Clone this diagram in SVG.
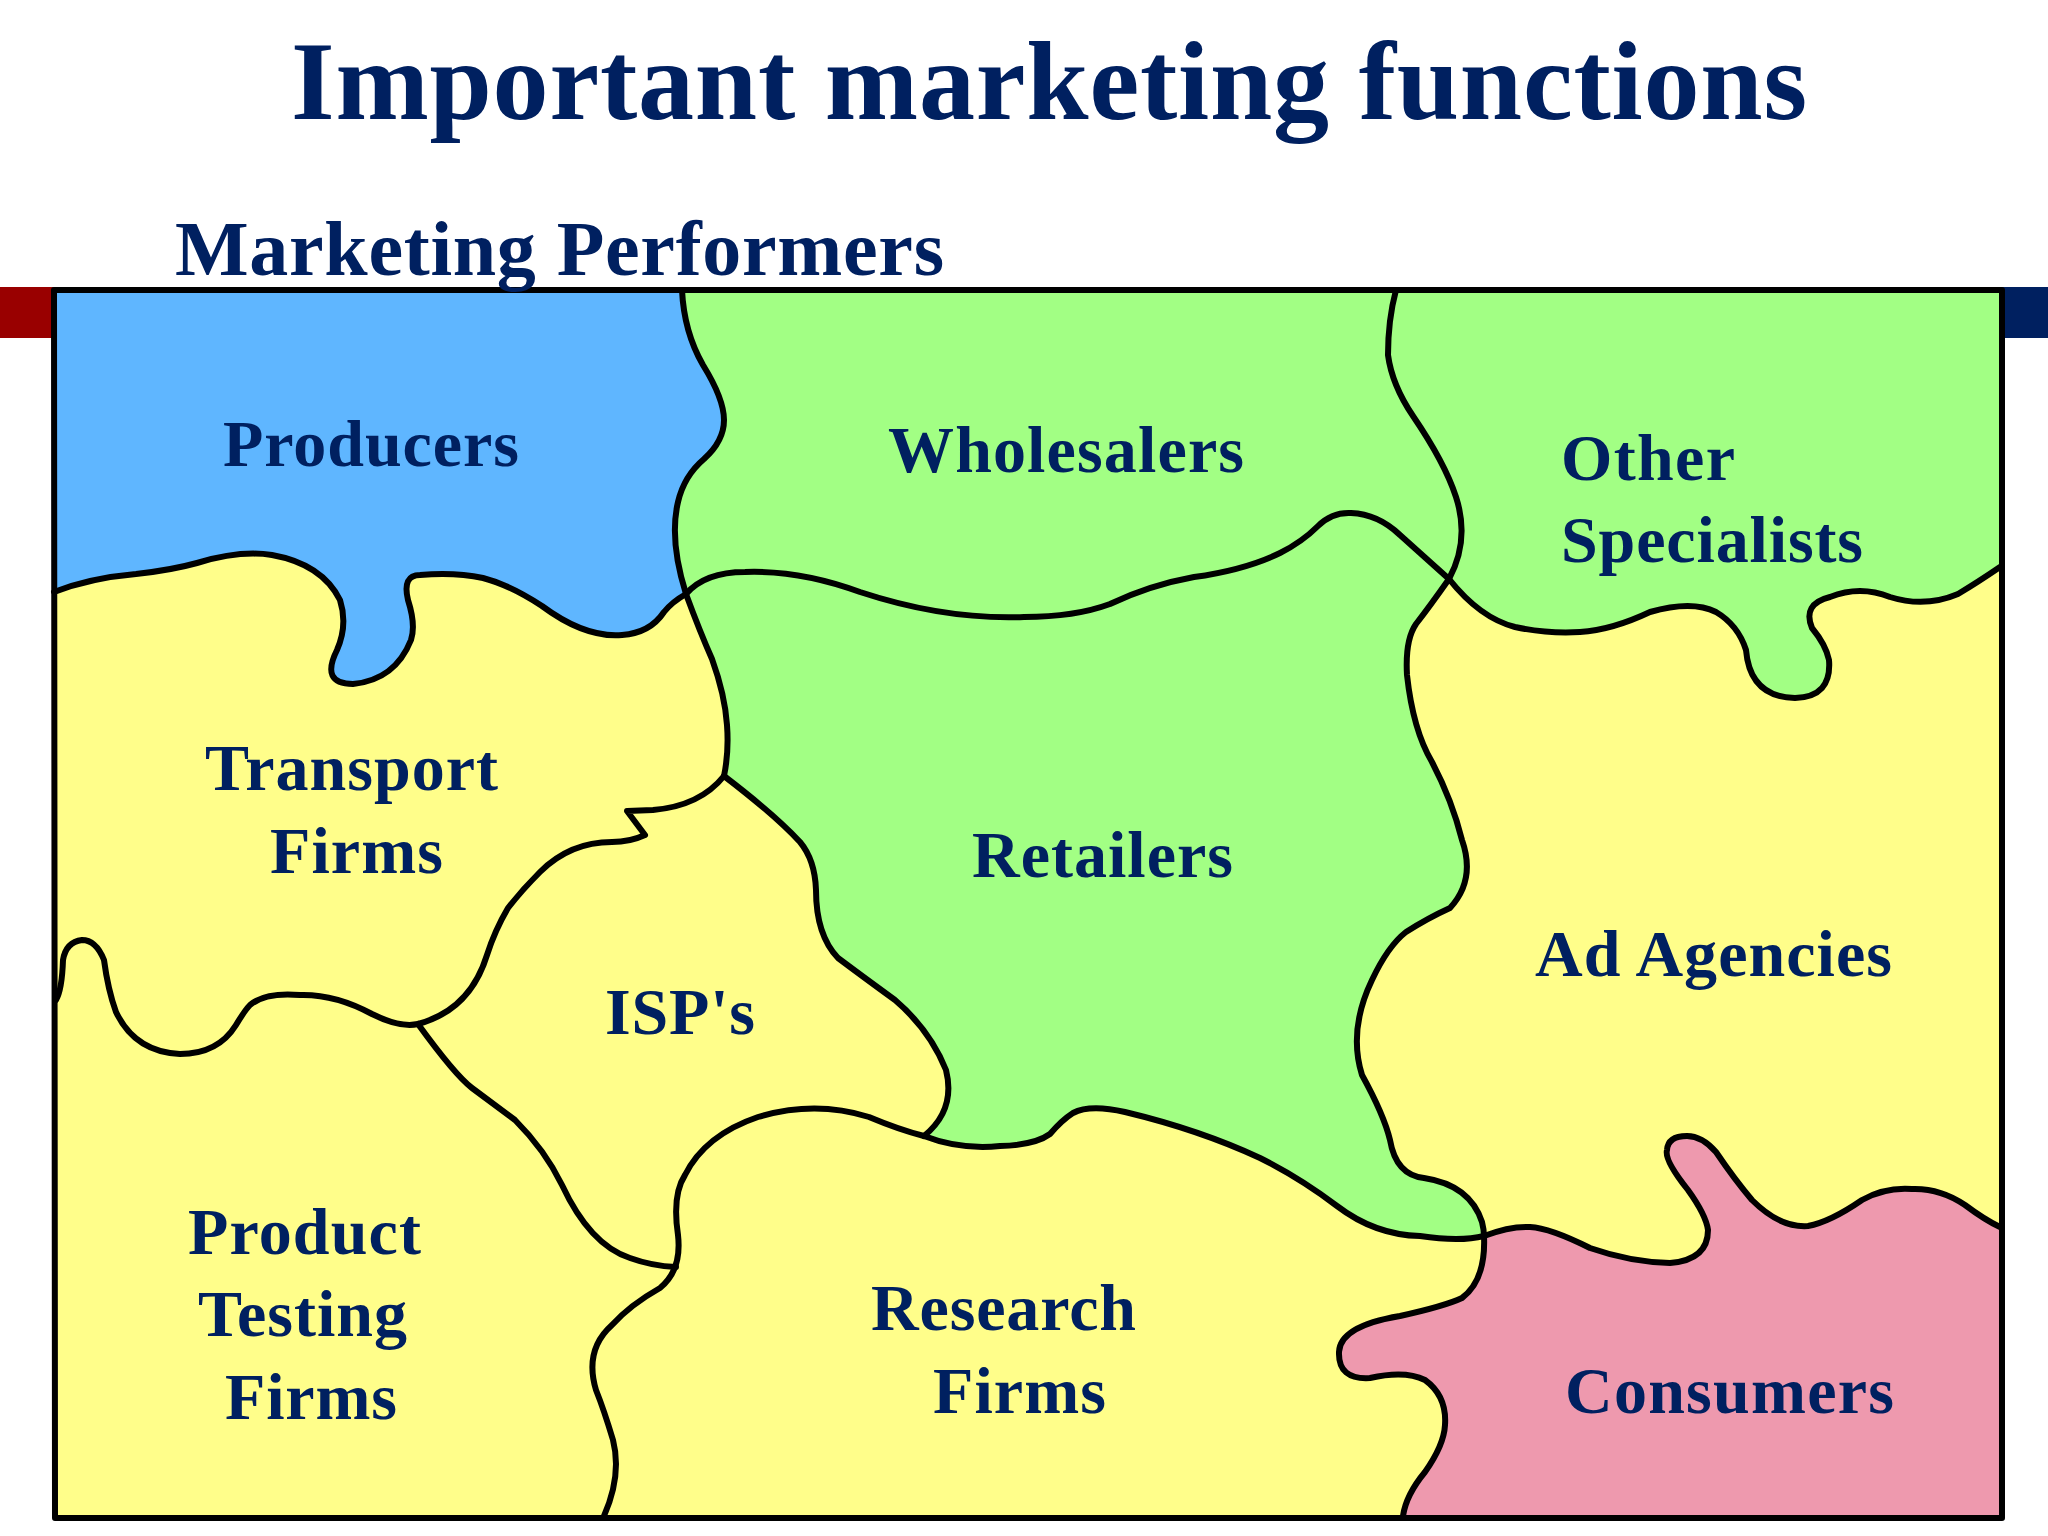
<svg xmlns="http://www.w3.org/2000/svg" width="2048" height="1536" viewBox="0 0 2048 1536">
<style>
.t{font-family:"Liberation Serif","Times New Roman",serif;font-weight:700;fill:#002060}
.l{font-size:66px}
.b{fill:none;stroke:#000;stroke-width:6;stroke-linejoin:round;stroke-linecap:round}
.y{fill:#FFFE8A}.g{fill:#A2FF84}
</style>
<rect width="2048" height="1536" fill="#fff"/>
<g id="banner">
<rect x="0" y="287" width="120" height="51" fill="#990000"/>
<rect x="132" y="287" width="1916" height="51" fill="#002060"/>
</g>
<g id="regions">
<rect class="y" x="54" y="290" width="1948" height="1228"/>
<path fill="#5FB6FF" d="M54 592 Q90 578 136 574 Q172 570 197 563 Q240 550 272 555 Q322 564 340 600 Q348 625 337 650 Q320 684 353 684 Q395 680 411 640 Q416 625 408 600 Q402 575 420 575 Q455 572 483 578 Q510 585 542 606 Q585 638 622 635 Q650 633 664 612 Q672 602 686 594 L760 594 L760 290 L54 290Z"/>
<path class="g" d="M682 290 Q684 332 703 365 Q724 399 724 420 Q724 441 704 459 Q684 476 678 502 Q669 540 686 594 Q700 632 712 659 Q725 695 727 725 Q729 752 724 776 Q775 815 800 842 Q815 860 816 890 Q816 935 838 958 Q862 976 895 1000 Q930 1030 946 1070 Q956 1110 924 1136 Q960 1150 1000 1146 Q1035 1145 1050 1134 Q1062 1120 1073 1113 Q1090 1104 1125 1112 Q1200 1130 1260 1158 Q1300 1178 1337 1206 Q1375 1235 1420 1236 Q1460 1242 1484 1236 L2000 1236 L2000 290Z"/>
<path class="y" d="M1449 579 Q1430 606 1416 624 Q1405 640 1407 675 Q1413 730 1432 762 Q1452 800 1462 840 Q1476 880 1450 908 Q1428 918 1406 932 Q1388 946 1372 980 Q1348 1030 1362 1075 Q1384 1115 1390 1140 Q1396 1175 1424 1178 Q1470 1185 1482 1222 Q1484 1230 1484 1236 Q1510 1226 1530 1227 Q1550 1228 1590 1248 Q1630 1262 1670 1263 Q1708 1260 1708 1230 Q1706 1215 1688 1190 Q1664 1160 1667 1150 Q1668 1136 1687 1136 Q1702 1136 1716 1152 Q1735 1180 1752 1200 Q1780 1228 1808 1226 Q1830 1222 1862 1200 Q1885 1187 1912 1189 Q1940 1188 1965 1205 Q1985 1220 2000 1227 L2000 520 L1480 520Z"/>
<path class="g" d="M1396 290 Q1388 320 1388 355 Q1392 385 1413 416 Q1445 463 1456 497 Q1470 540 1449 579 Q1480 618 1515 627 Q1548 634 1580 632 Q1612 630 1650 612 Q1692 600 1716 612 Q1738 625 1746 650 Q1750 697 1795 698 Q1832 697 1829 660 Q1826 645 1812 628 Q1802 604 1830 597 Q1860 585 1890 597 Q1925 608 1958 594 Q1978 582 2000 567 L2000 290Z"/>
<path fill="#EE99AE" d="M1484 1236 Q1510 1226 1530 1227 Q1550 1228 1590 1248 Q1630 1262 1670 1263 Q1708 1260 1708 1230 Q1706 1215 1688 1190 Q1664 1160 1667 1150 Q1668 1136 1687 1136 Q1702 1136 1716 1152 Q1735 1180 1752 1200 Q1780 1228 1808 1226 Q1830 1222 1862 1200 Q1885 1187 1912 1189 Q1940 1188 1965 1205 Q1985 1220 2000 1227 L2000 1516 L1300 1516 L1300 1260Z"/>
<path class="y" d="M604 1516 Q622 1475 613 1440 Q604 1410 596 1390 Q584 1350 612 1325 Q630 1305 660 1288 Q682 1270 678 1235 Q672 1195 685 1175 Q705 1135 758 1117 Q815 1100 869 1117 Q900 1130 924 1136 Q960 1150 1000 1146 Q1035 1145 1050 1134 Q1062 1120 1073 1113 Q1090 1104 1125 1112 Q1200 1130 1260 1158 Q1300 1178 1337 1206 Q1375 1235 1420 1236 Q1460 1242 1484 1236 Q1486 1280 1462 1298 Q1445 1306 1400 1316 Q1340 1326 1339 1352 Q1338 1380 1370 1378 Q1405 1370 1425 1380 Q1447 1396 1445 1425 Q1444 1445 1425 1472 Q1406 1495 1403 1516Z"/>
</g>
<g id="connectors">
<path class="b" d="M54 290 H2002 V1518 H55Z"/>
<path class="b" d="M682 290 Q684 332 703 365 Q724 399 724 420 Q724 441 704 459 Q684 476 678 502 Q669 540 686 594 Q700 632 712 659 Q725 695 727 725 Q729 752 724 776"/>
<path class="b" d="M54 592 Q90 578 136 574 Q172 570 197 563 Q240 550 272 555 Q322 564 340 600 Q348 625 337 650 Q320 684 353 684 Q395 680 411 640 Q416 625 408 600 Q402 575 420 575 Q455 572 483 578 Q510 585 542 606 Q585 638 622 635 Q650 633 664 612 Q672 602 686 594 Q705 572 745 572 Q800 570 860 592 Q945 620 1024 617 Q1075 617 1110 604 Q1150 585 1194 577 Q1245 570 1280 553 Q1302 542 1318 526 Q1332 512 1351 513 Q1378 514 1400 535 Q1428 560 1449 579 Q1480 618 1515 627 Q1548 634 1580 632 Q1612 630 1650 612 Q1692 600 1716 612 Q1738 625 1746 650 Q1750 697 1795 698 Q1832 697 1829 660 Q1826 645 1812 628 Q1802 604 1830 597 Q1860 585 1890 597 Q1925 608 1958 594 Q1978 582 2000 567"/>
<path class="b" d="M1396 290 Q1388 320 1388 355 Q1392 385 1413 416 Q1445 463 1456 497 Q1470 540 1449 579 Q1430 606 1416 624 Q1405 640 1407 675 Q1413 730 1432 762 Q1452 800 1462 840 Q1476 880 1450 908 Q1428 918 1406 932 Q1388 946 1372 980 Q1348 1030 1362 1075 Q1384 1115 1390 1140 Q1396 1175 1424 1178 Q1470 1185 1482 1222 Q1484 1230 1484 1236 Q1486 1280 1462 1298 Q1445 1306 1400 1316 Q1340 1326 1339 1352 Q1338 1380 1370 1378 Q1405 1370 1425 1380 Q1447 1396 1445 1425 Q1444 1445 1425 1472 Q1406 1495 1403 1516"/>
<path class="b" d="M724 776 Q700 806 653 810 L627 811 L645 835 Q630 842 612 842 Q570 842 540 872 Q522 890 508 908 Q495 930 487 955 Q470 1010 418 1024 Q400 1028 372 1014 Q335 994 300 995 Q265 992 250 1005 Q245 1010 236 1025 Q218 1054 180 1054 Q135 1052 116 1012 Q108 990 104 960 Q96 940 82 940 Q66 942 63 960 Q62 990 56 1000"/>
<path class="b" d="M724 776 Q775 815 800 842 Q815 860 816 890 Q816 935 838 958 Q862 976 895 1000 Q930 1030 946 1070 Q956 1110 924 1136"/>
<path class="b" d="M418 1024 Q455 1075 472 1088 Q495 1105 515 1120 Q545 1150 562 1185 Q590 1245 630 1258 Q652 1266 676 1267"/>
<path class="b" d="M604 1516 Q622 1475 613 1440 Q604 1410 596 1390 Q584 1350 612 1325 Q630 1305 660 1288 Q682 1270 678 1235 Q672 1195 685 1175 Q705 1135 758 1117 Q815 1100 869 1117 Q900 1130 924 1136 Q960 1150 1000 1146 Q1035 1145 1050 1134 Q1062 1120 1073 1113 Q1090 1104 1125 1112 Q1200 1130 1260 1158 Q1300 1178 1337 1206 Q1375 1235 1420 1236 Q1460 1242 1484 1236 Q1510 1226 1530 1227 Q1550 1228 1590 1248 Q1630 1262 1670 1263 Q1708 1260 1708 1230 Q1706 1215 1688 1190 Q1664 1160 1667 1150 Q1668 1136 1687 1136 Q1702 1136 1716 1152 Q1735 1180 1752 1200 Q1780 1228 1808 1226 Q1830 1222 1862 1200 Q1885 1187 1912 1189 Q1940 1188 1965 1205 Q1985 1220 2000 1227"/>
</g>
<g id="node-producers"><text class="t l" x="223" y="466" textLength="296">Producers</text></g>
<g id="node-wholesalers"><text class="t l" x="888" y="472" textLength="356">Wholesalers</text></g>
<g id="node-other-specialists"><text class="t l" x="1561" y="480" textLength="174">Other</text><text class="t l" x="1561" y="562" textLength="302">Specialists</text></g>
<g id="node-transport-firms"><text class="t l" x="205" y="790" textLength="293">Transport</text><text class="t l" x="270" y="873" textLength="173">Firms</text></g>
<g id="node-retailers"><text class="t l" x="972" y="877" textLength="261">Retailers</text></g>
<g id="node-isps"><text class="t l" x="605" y="1034" textLength="150">ISP's</text></g>
<g id="node-ad-agencies"><text class="t l" x="1535" y="976" textLength="357">Ad Agencies</text></g>
<g id="node-product-testing-firms"><text class="t l" x="188" y="1254" textLength="233">Product</text><text class="t l" x="198" y="1336" textLength="209">Testing</text><text class="t l" x="225" y="1419" textLength="172">Firms</text></g>
<g id="node-research-firms"><text class="t l" x="871" y="1330" textLength="265">Research</text><text class="t l" x="933" y="1413" textLength="173">Firms</text></g>
<g id="node-consumers"><text class="t l" x="1565" y="1413" textLength="329">Consumers</text></g>
<g id="headings">
<text class="t" x="291" y="119" font-size="112" textLength="1516">Important marketing functions</text>
<text class="t" x="175" y="275" font-size="78" textLength="769">Marketing Performers</text>
</g>
</svg>
